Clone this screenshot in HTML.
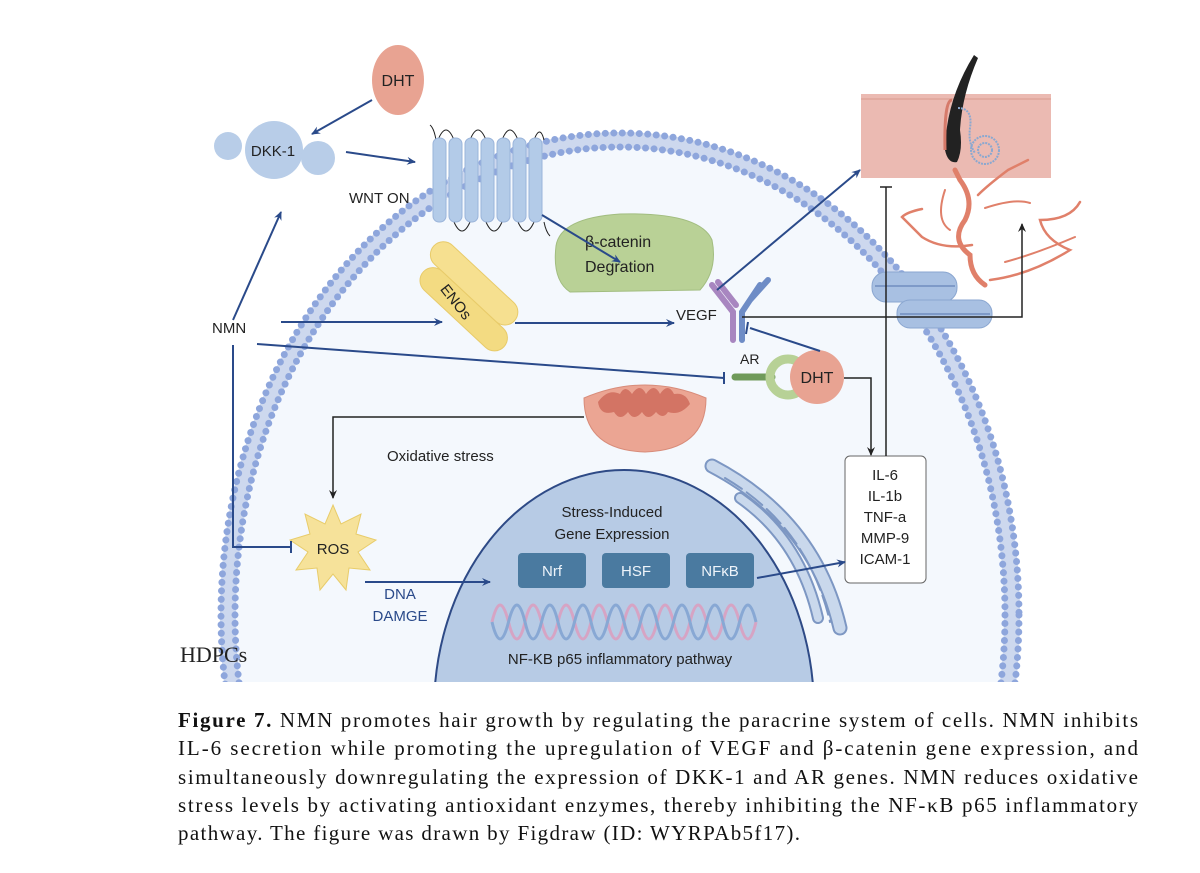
<!DOCTYPE html>
<html><head><meta charset="utf-8"><style>
html,body{margin:0;padding:0;background:#fff;overflow:hidden;width:1200px;height:873px;}
svg{display:block;font-family:"Liberation Sans",Arial,sans-serif;}
</style></head><body>
<svg width="1200" height="873" viewBox="0 0 1200 873" xmlns="http://www.w3.org/2000/svg">
<defs>
<marker id="ab" markerWidth="10" markerHeight="10" refX="8" refY="5" orient="auto" markerUnits="userSpaceOnUse"><path d="M0,1 L9,5 L0,9 L3,5z" fill="#2a4a8a"/></marker>
<marker id="ak" markerWidth="10" markerHeight="10" refX="8" refY="5" orient="auto" markerUnits="userSpaceOnUse"><path d="M0,1 L9,5 L0,9 L3,5z" fill="#222"/></marker>
<clipPath id="cl"><rect x="0" y="0" width="1200" height="682"/></clipPath>
</defs>
<g clip-path="url(#cl)">
<ellipse cx="620" cy="615" rx="392" ry="475" fill="#f4f8fd"/>
<ellipse cx="620" cy="615" rx="392" ry="475" fill="none" stroke="#cdd8ee" stroke-width="16"/>
<ellipse cx="620" cy="615" rx="399" ry="482" fill="none" stroke="#8ea6dc" stroke-width="7" stroke-dasharray="0 8.5" stroke-linecap="round"/>
<ellipse cx="620" cy="615" rx="385" ry="468" fill="none" stroke="#8ea6dc" stroke-width="7" stroke-dasharray="0 8.5" stroke-linecap="round"/>
<ellipse cx="624" cy="710" rx="190" ry="240" fill="#b7cbe5" stroke="#2e4a86" stroke-width="2"/>
</g>
<!-- ER -->
<g fill="none" stroke-linecap="round">
<path d="M712,466 Q815,520 840,628" stroke="#7d97c3" stroke-width="15"/>
<path d="M712,466 Q815,520 840,628" stroke="#c9d8ec" stroke-width="11"/>
<path d="M740,498 Q800,540 818,618" stroke="#7d97c3" stroke-width="12"/>
<path d="M740,498 Q800,540 818,618" stroke="#c9d8ec" stroke-width="8"/>
<path d="M725,478 Q808,527 830,622" stroke="#7d97c3" stroke-width="2" stroke-dasharray="20 6"/>
</g>
<!-- hair box -->
<rect x="861" y="94" width="190" height="84" fill="#ebbab2"/>
<line x1="861" y1="99" x2="1051" y2="99" stroke="#d99a8f" stroke-width="1"/>
<path d="M974,55 Q946,100 945,150 Q948,164 957,162 Q963,150 960,130 Q962,95 978,58z" fill="#222"/>
<path d="M945,150 Q944,100 952,100" fill="none" stroke="#d67a6a" stroke-width="3"/>
<path d="M958,108 q15,0 12,20 q-2,15 5,25" fill="none" stroke="#8aa8d0" stroke-width="2" stroke-dasharray="2 1"/>
<circle cx="985" cy="150" r="14" fill="none" stroke="#8aa8d0" stroke-width="2" stroke-dasharray="2 1"/>
<circle cx="985" cy="150" r="7" fill="none" stroke="#8aa8d0" stroke-width="2" stroke-dasharray="2 1"/>
<!-- vessels -->
<g fill="none" stroke="#e0806a" stroke-linecap="round">
<path d="M985,285 q-15,-10 -15,-30 q-20,-15 -5,-35 q10,-20 -5,-40 l-5,-10" stroke-width="5"/>
<path d="M978,195 q10,-10 30,-25 q10,-5 20,-10" stroke-width="2.5"/>
<path d="M972,245 q-30,5 -50,-8 q-10,-10 -20,-20 q5,-5 20,-8" stroke-width="2.5"/>
<path d="M990,280 q40,-5 80,-30 q-25,-10 -30,-30 q30,0 40,-18" stroke-width="2.5"/>
<path d="M1005,262 q30,-8 70,-25" stroke-width="2"/>
<path d="M985,208 q30,-10 45,-5" stroke-width="2"/>
<path d="M950,230 q-15,-10 -5,-40" stroke-width="2"/>
</g>
<g fill="#a8c0e2" stroke="#8aa6d0" stroke-width="1">
<rect x="872" y="272" width="85" height="30" rx="14"/>
<rect x="897" y="300" width="95" height="28" rx="13"/>
</g>
<line x1="875" y1="286" x2="955" y2="286" stroke="#7e9ac8" stroke-width="2"/>
<line x1="900" y1="314" x2="990" y2="314" stroke="#7e9ac8" stroke-width="2"/>
<!-- receptor -->
<g stroke="#222" stroke-width="1" fill="none">
<path d="M438,140 q8,-20 16,0 M470,140 q8,-20 16,0 M502,140 q8,-20 16,0 M534,140 q6,-16 10,0"/>
<path d="M454,222 q8,18 16,0 M486,222 q8,18 16,0 M518,222 q8,18 16,0"/>
<path d="M436,140 q-2,-12 -6,-15 M544,222 q2,10 6,14"/>
</g>
<g fill="#b3cbe8" stroke="#9ab4da" stroke-width="1">
<rect x="433" y="138" width="13" height="84" rx="6"/><rect x="449" y="138" width="13" height="84" rx="6"/>
<rect x="465" y="138" width="13" height="84" rx="6"/><rect x="481" y="138" width="13" height="84" rx="6"/>
<rect x="497" y="138" width="13" height="84" rx="6"/><rect x="513" y="138" width="13" height="84" rx="6"/>
<rect x="529" y="138" width="13" height="84" rx="6"/>
</g>
<ellipse cx="398" cy="80" rx="26" ry="35" fill="#e8a392"/>
<text x="398" y="86" font-size="16" text-anchor="middle" fill="#222">DHT</text>
<circle cx="274" cy="150" r="29" fill="#b8cde8"/>
<text x="273" y="156" font-size="15" text-anchor="middle" fill="#222">DKK-1</text>
<circle cx="228" cy="146" r="14" fill="#b8cde8"/>
<circle cx="318" cy="158" r="17" fill="#b8cde8"/>
<text x="349" y="203" font-size="15" fill="#222">WNT ON</text>
<path d="M556,246 Q560,218 620,214 Q700,212 712,240 Q718,270 700,290 L570,292 Q552,280 556,246z" fill="#b9d196" stroke="#a2bd80"/>
<text x="585" y="247" font-size="16" fill="#222">β-catenin</text>
<text x="585" y="272" font-size="16" fill="#222">Degration</text>
<g transform="rotate(43 458 308)">
<rect x="408" y="292" width="110" height="26" rx="13" fill="#f3db82" stroke="#e8cb6a"/>
<rect x="398" y="266" width="110" height="26" rx="13" fill="#f6e090" stroke="#e8cb6a"/>
</g>
<text x="452" y="305" font-size="15" fill="#222" transform="rotate(52 452 305)" text-anchor="middle">ENOs</text>
<g stroke-linecap="round" fill="none" stroke-width="6">
<path d="M733,340 V312 L712,285" stroke="#a886c0"/>
<path d="M718,282 L736,305" stroke="#a886c0"/>
<path d="M742,340 V312 L760,285 M750,300 L768,280" stroke="#6e8cc6"/>
</g>
<text x="676" y="320" font-size="15" fill="#222">VEGF</text>
<line x1="735" y1="377" x2="772" y2="377" stroke="#6f9a5a" stroke-width="7" stroke-linecap="round"/>
<circle cx="788" cy="377" r="18" fill="none" stroke="#b7d196" stroke-width="9"/>
<circle cx="817" cy="377" r="27" fill="#e8a392"/>
<text x="817" y="383" font-size="16" text-anchor="middle" fill="#222">DHT</text>
<text x="740" y="364" font-size="14" fill="#222">AR</text>
<!-- mito -->
<path d="M584,398 Q645,372 706,398 Q706,450 645,452 Q584,450 584,398z" fill="#eba593" stroke="#d88c7a"/>
<path d="M598,402 q10,-14 22,-8 q5,-10 12,0 q8,-12 14,0 q8,-12 14,0 q8,-12 14,0 q12,-2 16,10 q-10,12 -22,8 q-5,8 -12,0 q-8,10 -14,0 q-8,10 -14,0 q-8,10 -14,0 q-14,4 -16,-10z" fill="#d37464"/>
<polygon points="333,505 341,524 361,514 356,534 376,540 358,552 370,570 349,568 346,590 333,574 320,590 317,568 296,570 308,552 290,540 310,534 305,514 325,524" fill="#f6e29a" stroke="#e8cc6a"/>
<text x="333" y="554" font-size="15" text-anchor="middle" fill="#222">ROS</text>
<text x="612" y="517" font-size="15" text-anchor="middle" fill="#222">Stress-Induced</text>
<text x="612" y="539" font-size="15" text-anchor="middle" fill="#222">Gene Expression</text>
<g fill="#4a7aa0"><rect x="518" y="553" width="68" height="35" rx="4"/><rect x="602" y="553" width="68" height="35" rx="4"/><rect x="686" y="553" width="68" height="35" rx="4"/></g>
<g font-size="15" fill="#eef4fa" text-anchor="middle"><text x="552" y="576">Nrf</text><text x="636" y="576">HSF</text><text x="720" y="576">NFκB</text></g>
<path d="M492,622 q8,-34 16.5,0 t16.5,0 t16.5,0 t16.5,0 t16.5,0 t16.5,0 t16.5,0 t16.5,0 t16.5,0 t16.5,0 t16.5,0 t16.5,0 t16.5,0 t16.5,0 t16.5,0 t16.5,0" fill="none" stroke="#d6a4c4" stroke-width="3"/>
<path d="M492,622 q8,34 16.5,0 t16.5,0 t16.5,0 t16.5,0 t16.5,0 t16.5,0 t16.5,0 t16.5,0 t16.5,0 t16.5,0 t16.5,0 t16.5,0 t16.5,0 t16.5,0 t16.5,0 t16.5,0" fill="none" stroke="#88a8d4" stroke-width="3"/>
<text x="620" y="664" font-size="15" text-anchor="middle" fill="#222">NF-KB p65 inflammatory pathway</text>
<rect x="845" y="456" width="81" height="127" rx="5" fill="#fff" stroke="#666"/>
<g font-size="15" text-anchor="middle" fill="#222"><text x="885" y="480">IL-6</text><text x="885" y="501">IL-1b</text><text x="885" y="522">TNF-a</text><text x="885" y="543">MMP-9</text><text x="885" y="564">ICAM-1</text></g>
<text x="212" y="333" font-size="15" fill="#222">NMN</text>
<text x="387" y="461" font-size="15" fill="#222">Oxidative stress</text>
<text x="400" y="599" font-size="15" text-anchor="middle" fill="#2a4a8a">DNA</text>
<text x="400" y="621" font-size="15" text-anchor="middle" fill="#2a4a8a">DAMGE</text>
<text x="180" y="662" font-size="22" font-family="Liberation Serif,serif" fill="#222">HDPCs</text>
<g stroke="#2a4a8a" stroke-width="2" fill="none">
<line x1="372" y1="100" x2="312" y2="134" marker-end="url(#ab)"/>
<line x1="346" y1="152" x2="415" y2="162" marker-end="url(#ab)"/>
<line x1="542" y1="215" x2="620" y2="262" marker-end="url(#ab)"/>
<line x1="717" y1="290" x2="860" y2="170" marker-end="url(#ab)"/>
<line x1="233" y1="320" x2="281" y2="212" marker-end="url(#ab)"/>
<line x1="281" y1="322" x2="442" y2="322" marker-end="url(#ab)"/>
<line x1="515" y1="323" x2="674" y2="323" marker-end="url(#ab)"/>
<line x1="257" y1="344" x2="724" y2="378"/>
<line x1="724" y1="372" x2="724" y2="384"/>
<line x1="820" y1="351" x2="750" y2="328"/>
<line x1="748" y1="322" x2="746" y2="334"/>
<path d="M233,345 V547 H291"/>
<line x1="291" y1="541" x2="291" y2="553"/>
<line x1="365" y1="582" x2="490" y2="582" marker-end="url(#ab)"/>
<line x1="757" y1="578" x2="845" y2="562" marker-end="url(#ab)"/>
</g>
<g stroke="#222" stroke-width="1.5" fill="none">
<path d="M584,417 H333 V498" marker-end="url(#ak)"/>
<path d="M844,378 H871 V455" marker-end="url(#ak)"/>
<line x1="886" y1="456" x2="886" y2="187"/>
<line x1="880" y1="187" x2="892" y2="187"/>
<path d="M742,317 H1022 V224" marker-end="url(#ak)"/>
</g>
<g font-family="Liberation Serif,serif" font-size="21" fill="#111">
<text x="178" y="727" textLength="960" lengthAdjust="spacing"><tspan font-weight="bold">Figure 7.</tspan> NMN promotes hair growth by regulating the paracrine system of cells. NMN inhibits</text>
<text x="178" y="755" textLength="960" lengthAdjust="spacing">IL-6 secretion while promoting the upregulation of VEGF and β-catenin gene expression, and</text>
<text x="178" y="784" textLength="960" lengthAdjust="spacing">simultaneously downregulating the expression of DKK-1 and AR genes. NMN reduces oxidative</text>
<text x="178" y="812" textLength="960" lengthAdjust="spacing">stress levels by activating antioxidant enzymes, thereby inhibiting the NF-κB p65 inflammatory</text>
<text x="178" y="840" textLength="622" lengthAdjust="spacing">pathway. The figure was drawn by Figdraw (ID: WYRPAb5f17).</text>
</g>
</svg>
</body></html>
